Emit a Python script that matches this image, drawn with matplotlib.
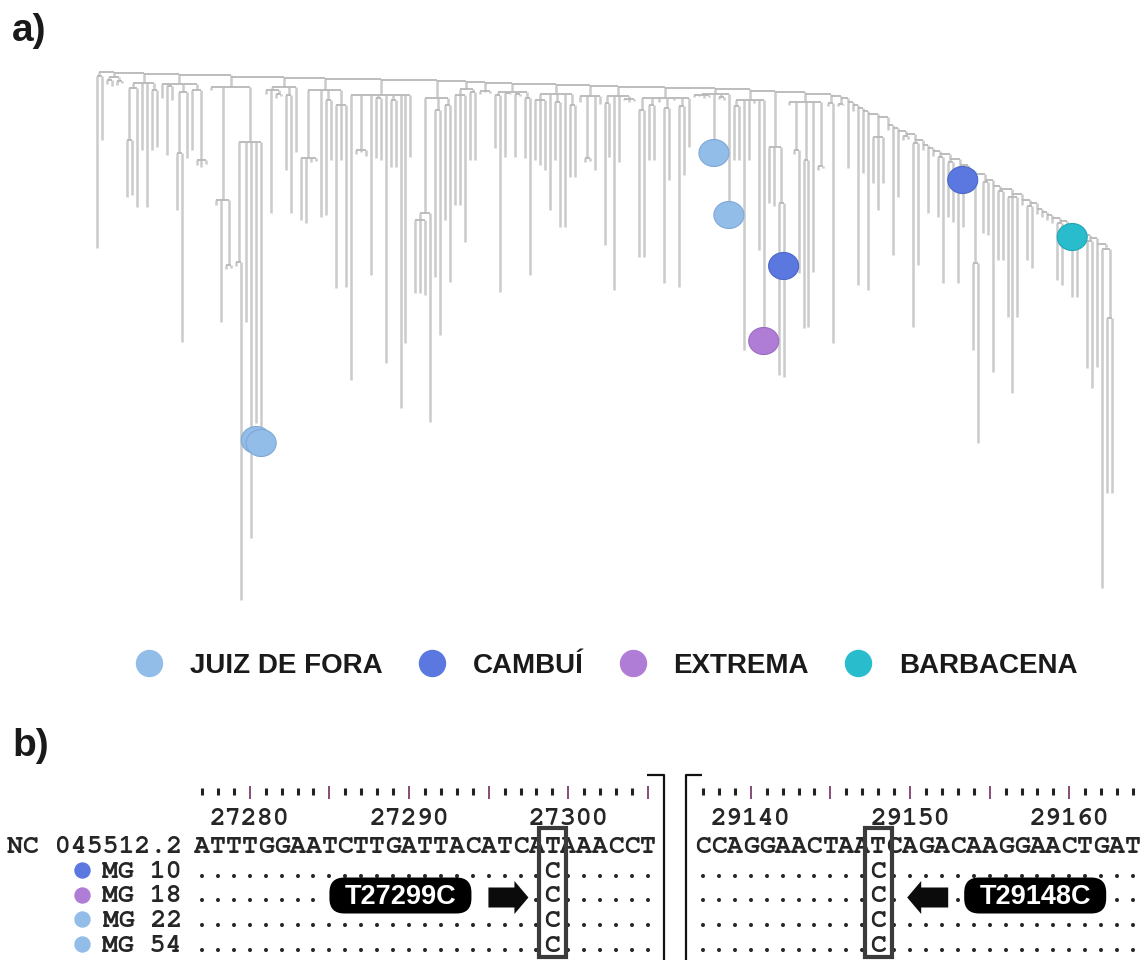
import re
import numpy as np
import matplotlib
matplotlib.use("Agg")
import matplotlib.pyplot as plt
from matplotlib import font_manager, transforms
from matplotlib.collections import LineCollection
from matplotlib.patches import FancyBboxPatch, FancyArrow, Rectangle
from matplotlib.path import Path

# ---------------------------------------------------------------- panel a data
# The tree is a ladder: each clade hangs from the backbone at RUNG_DEPTHS[i].
# Clades use a compact Newick-like notation: "(child,child,...)h", leaves are
# plain numbers; every number is the node height (distance from the root).
RUNG_DEPTHS = [2, 3, 4, 5, 7, 8, 9, 10, 11,
               12, 13, 14, 15, 16, 17, 18, 19, 21, 22, 24, 26, 28,
               32, 35, 38, 41, 44, 47, 55, 58, 61, 64, 70, 75, 78, 81, 84, 89, 95,
               101, 104, 110, 116, 119, 124, 130, 133, 139, 142, 145, 148, 151,
               156, 159, 165, 168, 174, 177]

CLADES = [
    "(178,70)6",
    "((14,16)10,(15,13)11)7",
    "(((127,125)70,137)18,80,137,(80,77)20)13",
    "(28,(85,30)16,((140,272)83,88)22,(80,(95,97,94)90)20)14",
    "(20,(135,252,(199,198)195)130,((196,530)192,252,468,353,383)72)17",
    "((24,143,(28,26)24)20,(100,143)25,82)17",
    "((150,153,92,91)88,147,(145,90)30,(218,90,217)35)20",
    "(310,(84,82,86)80,205,(88,90)28,293,(97,97)30,338,273,87)25",
    "(((223,223,225)150,352)143,(207,265)40,(150,212)35)28",
    "((135,135,172)25,(90,90)22)19",
    "(24,22,23)21",
    "((78,222)25,(87,24)23,(87,26)24,(88,205)28)22",
    "((90,95,100)30,140,(90,157)32,157,(107,107)35)24",
    "(32,(92,91)88,100,34)26",
    "((175,87)33,220,92,(30,32,31)29)26",
    "((187,187)40,(90,90)35,32,(213,110)38,30,(217,105)36,77)28",
    "((27,26,28,27)25,70,(29,30)27,133)24",
    "((90,90)36,280,90,33,180,271)30",
    "(133,136,(305,307)133)77",
    "(35,(84,203)80,(258,257)90,202,(100,98)96)32",
    "(36,273)33",
    "(36,35)34",
    "98", "41", "215", "103", "220",
    "(113,140,113)67",
    "60", "185", "127",
    "(70,69)66",
    "(257,195)73",
    "80", "143", "86",
    "(147,213)87",
    "(147,152)92",
    "(213,157)97",
    "106",
    "(280,373)193",
    "(163,165)112",
    "302",
    "(190,190)121",
    "(247,323,247)127",
    "135",
    "(190,198)136",
    "144", "147", "150", "153",
    "(210,215)153",
    "161",
    "(227,227)162",
    "170",
    "(298,318)171",
    "297",
    "(518,(423,423)248)179",
]

# sampled genomes: leaf index (left to right) and height of the marker on it
SAMPLE_TIPS = [32, 33, 124, 127, 134, 138, 174, 196]
SAMPLE_DEPTHS = [370, 373, 83, 145, 271, 196, 110, 167]
SAMPLE_GROUPS = ["JUIZ DE FORA", "JUIZ DE FORA", "JUIZ DE FORA", "JUIZ DE FORA",
                 "EXTREMA", "CAMBUÍ", "CAMBUÍ", "BARBACENA"]

GROUPS = ["JUIZ DE FORA", "CAMBUÍ", "EXTREMA", "BARBACENA"]
GROUP_COLORS = ["#93bde9", "#5a78e0", "#b07dd6", "#28bccd"]
GROUP_EDGES = ["#7fa8d6", "#4a66c8", "#9a6bc0", "#1fa6b6"]

# ---------------------------------------------------------------- panel b data
REF_NAME = "NC 045512.2"
BLOCK_STARTS = [27277, 29137]
REF_BLOCKS = ["ATTTGGAATCTTGATTACATCATAAACCT",
              "CCAGGAACTAATCAGACAAGGAACTGAT"]
SAMPLE_IDS = ["MG 10", "MG 18", "MG 22", "MG 54"]
SAMPLE_ID_GROUPS = ["CAMBUÍ", "EXTREMA", "JUIZ DE FORA", "JUIZ DE FORA"]
MUT_POS = [27299, 29148]
MUT_REF = ["T", "T"]
MUT_ALT = [["C", "C", "C", "C"], ["C", "C", "C", "C"]]

# ---------------------------------------------------------------- fonts
_installed = {f.name for f in font_manager.fontManager.ttflist}


def pick(*names):
    for n in names:
        if n in _installed:
            return n
    return "DejaVu Sans"


SANS = pick("Liberation Sans", "Arial", "DejaVu Sans")
MONO = pick("Nimbus Mono PS", "FreeMono", "Courier New", "Liberation Mono",
            "DejaVu Sans Mono")

W, H = 1140, 960
fig = plt.figure(figsize=(W / 100, H / 100), dpi=100)
fig.patch.set_facecolor("white")


# ---------------------------------------------------------------- tree parsing
def parse(s):
    pos = 0

    def number():
        nonlocal pos
        m = re.match(r"[0-9.]+", s[pos:])
        pos += m.end()
        return float(m.group())

    def node():
        nonlocal pos
        if s[pos] == "(":
            pos += 1
            kids = [node()]
            while s[pos] == ",":
                pos += 1
                kids.append(node())
            pos += 1  # ')'
            return {"h": number(), "kids": kids}
        return {"h": number(), "kids": []}

    return node()


clades = [parse(c) for c in CLADES]
_leaf = [0]


def place(n):
    if not n["kids"]:
        n["x"] = _leaf[0]
        _leaf[0] += 1
    else:
        for k in n["kids"]:
            place(k)
        n["x"] = 0.5 * (n["kids"][0]["x"] + n["kids"][-1]["x"])


for c in clades:
    place(c)
n_leaves = _leaf[0]

vsegs, hsegs = [], []


def collect(n):
    if n["kids"]:
        hsegs.append([(n["kids"][0]["x"], n["h"]), (n["kids"][-1]["x"], n["h"])])
        for k in n["kids"]:
            vsegs.append([(k["x"], n["h"]), (k["x"], k["h"])])
            collect(k)


for i, (r, c) in enumerate(zip(RUNG_DEPTHS, clades)):
    vsegs.append([(c["x"], r), (c["x"], c["h"])])
    collect(c)
    if i + 1 < len(clades):
        nxt = clades[i + 1]
        hsegs.append([(c["x"], r), (nxt["x"], r)])
        vsegs.append([(nxt["x"], r), (nxt["x"], RUNG_DEPTHS[i + 1])])

# tree axes: leaves spread between x = 97 px and 1112 px, root at y = 70 px
ax_t = fig.add_axes([0, 0, 1, 1], zorder=1)
ax_t.patch.set_visible(False)
ax_t.axis("off")
sp = (1112 - 97) / (n_leaves - 1)
ax_t.set_xlim(-97 / sp, (W - 97) / sp)
ax_t.set_ylim(H - 70, -70)

ax_t.add_collection(LineCollection(vsegs, colors="#cbcbcb", linewidths=1.8,
                                   capstyle="butt"))
ax_t.add_collection(LineCollection(hsegs, colors="#b8b8b8", linewidths=1.3,
                                   capstyle="butt"))

t = np.linspace(0, 2 * np.pi, 80)
ellipse = Path(np.column_stack([np.cos(t), 0.9 * np.sin(t)]))
col_of = dict(zip(GROUPS, GROUP_COLORS))
edge_of = dict(zip(GROUPS, GROUP_EDGES))
ax_t.scatter(SAMPLE_TIPS, SAMPLE_DEPTHS, s=(30 * 0.72) ** 2, marker=ellipse,
             c=[col_of[g] for g in SAMPLE_GROUPS],
             edgecolors=[edge_of[g] for g in SAMPLE_GROUPS],
             linewidths=0.8, zorder=4)

# ---------------------------------------------------------------- overlay (pixels)
ov = fig.add_axes([0, 0, 1, 1], zorder=4)
ov.patch.set_visible(False)
ov.axis("off")
ov.set_xlim(0, W)
ov.set_ylim(H, 0)

ov.text(12, 41, "a)", fontsize=28, fontweight="bold", family=SANS,
        va="baseline", ha="left", color="#1a1a1a")
ov.text(12, 756, "b)", fontsize=28, fontweight="bold", family=SANS,
        va="baseline", ha="left", color="#1a1a1a")

# legend, laid out left to right
renderer = fig.canvas.get_renderer()
cx = 149
for g, colr in zip(GROUPS, GROUP_COLORS):
    ov.scatter([cx], [663], s=(26 * 0.72) ** 2, color=colr, zorder=3)
    txt = ov.text(cx + 41, 673, g, fontsize=20, fontweight="bold", family=SANS,
                  va="baseline", ha="left", color="#1a1a1a")
    bb = txt.get_window_extent(renderer)
    cx = bb.x1 + 49

# ---------------------------------------------------------------- panel b
CHAR_PX = 15.93
ROW_PX = 24.75
ROW0_PY = 845.0


def row_of(py):
    return (py - ROW0_PY) / ROW_PX


FS = CHAR_PX / 0.6 * 0.72
BLOCK_LEFT_PX = [194, 695]
TXT = "#262626"
MONO_KW = dict(fontsize=FS, family=MONO, fontweight="bold", color=TXT)
ANNOT = [  # (label centre, arrow tail, arrow tip) relative to the column, px
    (-152, -64, -24),
    (157, 70, 29),
]
LABEL_W, LABEL_H = 142, 36
LABEL_ROW = 1  # sample row the mutation label sits on (MG 18)

axes_b = []
for b in range(2):
    left = BLOCK_LEFT_PX[b]
    seq = REF_BLOCKS[b]
    width_px = min(len(seq) * CHAR_PX, W - left)
    ax = fig.add_axes([left / W, 0, width_px / W, 200 / H], zorder=2)
    ax.patch.set_visible(False)
    ax.axis("off")
    ax.set_xlim(BLOCK_STARTS[b] - 0.5, BLOCK_STARTS[b] - 0.5 + width_px / CHAR_PX)
    ax.set_ylim(row_of(960), row_of(760))
    axes_b.append(ax)

    pos = BLOCK_STARTS[b] + np.arange(len(seq))
    col_px = ax.transData.transform(np.column_stack([pos, np.zeros_like(pos)]))[:, 0]

    # ruler
    minor = pos[pos % 5 != 0]
    major = pos[pos % 5 == 0]
    ax.vlines(minor, row_of(787.5), row_of(795), color="#222222", lw=2.2,
              clip_on=False)
    ax.vlines(major, row_of(786), row_of(799), color="#7d3c6b", lw=1.3,
              clip_on=False)
    for p in pos[pos % 10 == 0]:
        ax.text(p, row_of(825), str(p), ha="center", va="baseline", **MONO_KW)

    # mutation label and arrow, placed relative to the mutated column
    mi = MUT_POS[b] - BLOCK_STARTS[b]
    mut_px = col_px[mi]
    lab_dx, tail_dx, tip_dx = ANNOT[b]
    cy = ROW0_PY + (LABEL_ROW + 1) * ROW_PX + 1
    lx = mut_px + lab_dx
    ov.add_patch(FancyBboxPatch((lx - LABEL_W / 2, cy - LABEL_H / 2), LABEL_W,
                                LABEL_H, boxstyle="round,pad=0,rounding_size=15",
                                fc="black", ec="none", zorder=5))
    ov.text(lx, cy + 9, f"{MUT_REF[b]}{MUT_POS[b]}{MUT_ALT[b][0]}",
            ha="center", va="baseline", fontsize=19.5, fontweight="bold",
            family=SANS, color="white", zorder=6)
    a0, a1 = sorted([mut_px + tail_dx, mut_px + tip_dx])
    ov.add_patch(FancyArrow(mut_px + tail_dx, cy + 2, tip_dx - tail_dx, 0,
                            width=20, head_width=33, head_length=14,
                            length_includes_head=True, fc="#0b0b0b",
                            ec="none", zorder=5))
    hidden = ((np.abs(col_px - lx) < LABEL_W / 2 + 4)
              | ((col_px > a0 - 4) & (col_px < a1 + 4)))

    # reference row and sample rows (dots mark identity with the reference)
    for p, ch in zip(pos, seq):
        ax.text(p, row_of(853), ch, ha="center", va="baseline", **MONO_KW)
    for r in range(len(SAMPLE_IDS)):
        sample = list(seq)
        sample[mi] = MUT_ALT[b][r]
        for j, (p, ch) in enumerate(zip(pos, sample)):
            if r == LABEL_ROW and hidden[j]:
                continue  # covered by the label / arrow
            shown = "." if ch == seq[j] else ch
            ax.text(p, row_of(853) + r + 1, shown, ha="center", va="baseline",
                    **MONO_KW)

    # box around the mutated column
    ax.add_patch(Rectangle((MUT_POS[b] - 0.85, row_of(828)), 1.7,
                           row_of(957) - row_of(828), fill=False,
                           ec="#3b3b3b", lw=3.0, clip_on=False, zorder=3))

    # block brackets
    top = row_of(775)
    bottom = row_of(962)
    if b == 0:
        xr = BLOCK_STARTS[b] - 0.5 + len(seq) + 8 / CHAR_PX
        ax.plot([xr - 17 / CHAR_PX, xr, xr], [top, top, bottom], color="#111111",
                lw=1.6, clip_on=False, solid_capstyle="butt")
    else:
        xl = BLOCK_STARTS[b] - 0.5 - 9 / CHAR_PX
        ax.plot([xl + 16 / CHAR_PX, xl, xl], [top, top, bottom], color="#111111",
                lw=1.6, clip_on=False, solid_capstyle="butt")

# row labels with their group markers
blend = transforms.blended_transform_factory(ov.transData, axes_b[0].transData)
axb = axes_b[0]
axb.text(182, row_of(853), REF_NAME, transform=blend, ha="right", va="baseline",
         clip_on=False, **MONO_KW)
for r, (sid, g) in enumerate(zip(SAMPLE_IDS, SAMPLE_ID_GROUPS)):
    axb.text(182, row_of(853) + r + 1, sid, transform=blend, ha="right",
             va="baseline", clip_on=False, **MONO_KW)
    axb.scatter([82], [r + 1], transform=blend, s=(15 * 0.72) ** 2,
                color=col_of[g], clip_on=False, zorder=3)

fig.savefig("out.png", dpi=100, facecolor="white")
